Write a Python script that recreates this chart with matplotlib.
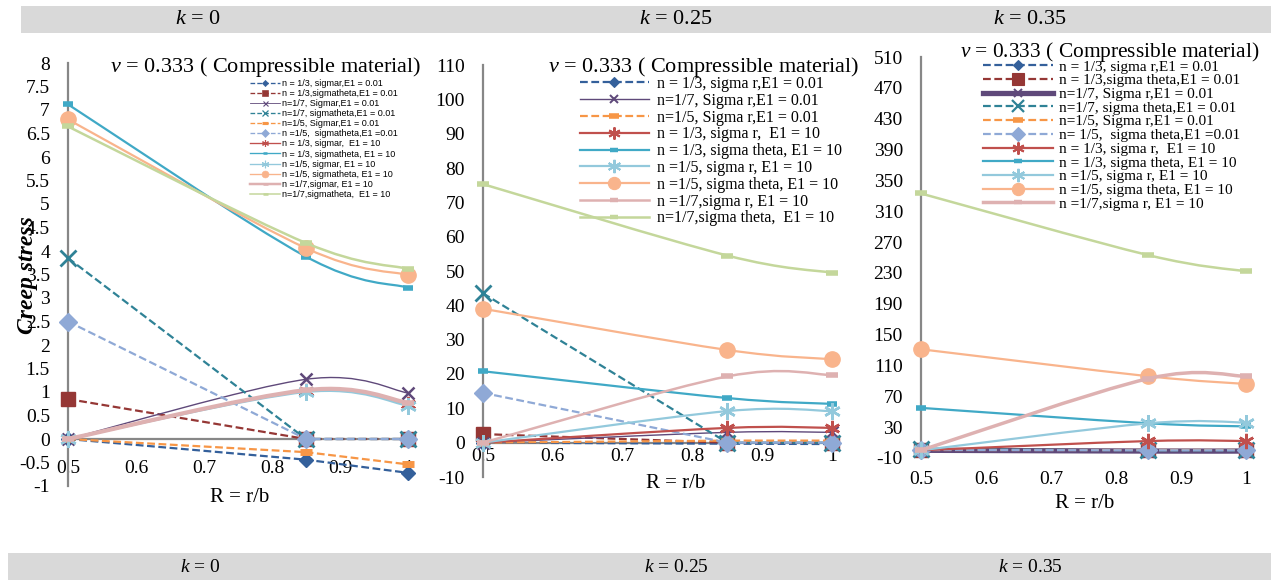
import matplotlib
matplotlib.use("Agg")
import matplotlib.pyplot as plt
from matplotlib.path import Path
from matplotlib.patches import PathPatch, Rectangle
from matplotlib.lines import Line2D

plt.rcParams['font.family'] = ['Liberation Serif', 'DejaVu Serif']
plt.rcParams['mathtext.fontset'] = 'custom'
plt.rcParams['mathtext.rm'] = 'Liberation Serif'
plt.rcParams['mathtext.it'] = 'Liberation Serif:italic'

# ---------------- data ----------------
R = [0.5, 0.85, 1.0]
X_TICKS = [0.5, 0.6, 0.7, 0.8, 0.9, 1.0]
X_TICK_LABELS = ['0.5', '0.6', '0.7', '0.8', '0.9', '1']

K_LABELS = ['$k$ = 0', '$k$ = 0.25', '$k$ = 0.35']
TITLE = '$v$ = 0.333 ( Compressible material)'
X_LABEL = 'R = r/b'
Y_LABEL = 'Creep stress'

K0_YTICKS = [-1, -0.5, 0, 0.5, 1, 1.5, 2, 2.5, 3, 3.5, 4, 4.5, 5, 5.5, 6, 6.5, 7, 7.5, 8]
K0_YTICK_LABELS = ['-1', '-0.5', '0', '0.5', '1', '1.5', '2', '2.5', '3', '3.5', '4',
                   '4.5', '5', '5.5', '6', '6.5', '7', '7.5', '8']
K25_YTICKS = [-10, 0, 10, 20, 30, 40, 50, 60, 70, 80, 90, 100, 110]
K25_YTICK_LABELS = ['-10', '0', '10', '20', '30', '40', '50', '60', '70', '80', '90', '100', '110']
K35_YTICKS = [-10, 30, 70, 110, 150, 190, 230, 270, 310, 350, 390, 430, 470, 510]
K35_YTICK_LABELS = ['-10', '30', '70', '110', '150', '190', '230', '270', '310', '350',
                    '390', '430', '470', '510']

# series keys (order of drawing)
SERIES = ['n3_sr_e001', 'n3_st_e001', 'n7_sr_e001', 'n7_st_e001', 'n5_sr_e001', 'n5_st_e001',
          'n3_sr_e10', 'n3_st_e10', 'n5_sr_e10', 'n5_st_e10', 'n7_sr_e10', 'n7_st_e10']

# k = 0
K0_N3_SR_E001 = [0.0, -0.44, -0.72]
K0_N3_ST_E001 = [0.85, 0.0, 0.0]
K0_N7_SR_E001 = [0.0, 1.27, 0.98]
K0_N7_ST_E001 = [3.85, 0.0, 0.0]
K0_N5_SR_E001 = [0.0, -0.28, -0.54]
K0_N5_ST_E001 = [2.5, 0.0, 0.0]
K0_N3_SR_E10 = [0.0, 1.02, 0.74]
K0_N3_ST_E10 = [7.12, 3.88, 3.22]
K0_N5_SR_E10 = [0.0, 1.0, 0.71]
K0_N5_ST_E10 = [6.8, 4.06, 3.49]
K0_N7_SR_E10 = [0.0, 1.04, 0.77]
K0_N7_ST_E10 = [6.65, 4.17, 3.62]

# k = 0.25
K25_N3_SR_E001 = [0.0, -0.3, -0.4]
K25_N3_ST_E001 = [2.5, 0.0, 0.0]
K25_N7_SR_E001 = [0.0, 3.0, 3.0]
K25_N7_ST_E001 = [43.5, 0.0, 0.0]
K25_N5_SR_E001 = [0.0, 0.6, 0.6]
K25_N5_ST_E001 = [14.5, 0.0, 0.0]
K25_N3_SR_E10 = [0.0, 4.3, 4.3]
K25_N3_ST_E10 = [20.8, 13.0, 11.3]
K25_N5_SR_E10 = [0.0, 9.2, 9.2]
K25_N5_ST_E10 = [39.0, 27.0, 24.3]
K25_N7_SR_E10 = [0.0, 19.3, 19.7]
K25_N7_ST_E10 = [75.3, 54.5, 49.5]

# k = 0.35
K35_N3_SR_E001 = [0.0, -1.0, -1.0]
K35_N3_ST_E001 = [1.0, 0.0, 0.0]
K35_N7_SR_E001 = [0.0, -1.0, -1.0]
K35_N7_ST_E001 = [1.5, 0.0, 0.0]
K35_N5_SR_E001 = [0.0, 0.0, 0.0]
K35_N5_ST_E001 = [0.5, 0.0, 0.0]
K35_N3_SR_E10 = [0.0, 12.0, 12.0]
K35_N3_ST_E10 = [55.0, 35.0, 31.0]
K35_N5_SR_E10 = [0.0, 35.0, 36.0]
K35_N5_ST_E10 = [131.0, 96.0, 86.0]
K35_N7_SR_E10 = [0.0, 93.0, 96.0]
K35_N7_ST_E10 = [333.0, 253.0, 232.0]

K0_LEGEND = ['n = 1/3, sigmar,E1 = 0.01', 'n = 1/3,sigmatheta,E1 = 0.01', 'n=1/7, Sigmar,E1 = 0.01',
             'n=1/7, sigmatheta,E1 = 0.01', 'n=1/5, Sigmar,E1 = 0.01', 'n =1/5,  sigmatheta,E1 =0.01',
             'n = 1/3, sigmar,  E1 = 10', 'n = 1/3, sigmatheta, E1 = 10', 'n =1/5, sigmar, E1 = 10',
             'n =1/5, sigmatheta, E1 = 10', 'n =1/7,sigmar, E1 = 10', 'n=1/7,sigmatheta,  E1 = 10']
K25_LEGEND_KEYS = ['n3_sr_e001', 'n7_sr_e001', 'n5_sr_e001', 'n3_sr_e10', 'n3_st_e10',
                   'n5_sr_e10', 'n5_st_e10', 'n7_sr_e10', 'n7_st_e10']
K25_LEGEND = ['n = 1/3, sigma r,E1 = 0.01', 'n=1/7, Sigma r,E1 = 0.01', 'n=1/5, Sigma r,E1 = 0.01',
              'n = 1/3, sigma r,  E1 = 10', 'n = 1/3, sigma theta, E1 = 10', 'n =1/5, sigma r, E1 = 10',
              'n =1/5, sigma theta, E1 = 10', 'n =1/7,sigma r, E1 = 10', 'n=1/7,sigma theta,  E1 = 10']
K35_LEGEND_KEYS = SERIES[:11]
K35_LEGEND = ['n = 1/3, sigma r,E1 = 0.01', 'n = 1/3,sigma theta,E1 = 0.01', 'n=1/7, Sigma r,E1 = 0.01',
              'n=1/7, sigma theta,E1 = 0.01', 'n=1/5, Sigma r,E1 = 0.01', 'n= 1/5,  sigma theta,E1 =0.01',
              'n = 1/3, sigma r,  E1 = 10', 'n = 1/3, sigma theta, E1 = 10', 'n =1/5, sigma r, E1 = 10',
              'n =1/5, sigma theta, E1 = 10', 'n =1/7,sigma r, E1 = 10']

K0_DATA = dict(zip(SERIES, [K0_N3_SR_E001, K0_N3_ST_E001, K0_N7_SR_E001, K0_N7_ST_E001, K0_N5_SR_E001,
                            K0_N5_ST_E001, K0_N3_SR_E10, K0_N3_ST_E10, K0_N5_SR_E10, K0_N5_ST_E10,
                            K0_N7_SR_E10, K0_N7_ST_E10]))
K25_DATA = dict(zip(SERIES, [K25_N3_SR_E001, K25_N3_ST_E001, K25_N7_SR_E001, K25_N7_ST_E001, K25_N5_SR_E001,
                             K25_N5_ST_E001, K25_N3_SR_E10, K25_N3_ST_E10, K25_N5_SR_E10, K25_N5_ST_E10,
                             K25_N7_SR_E10, K25_N7_ST_E10]))
K35_DATA = dict(zip(SERIES, [K35_N3_SR_E001, K35_N3_ST_E001, K35_N7_SR_E001, K35_N7_ST_E001, K35_N5_SR_E001,
                             K35_N5_ST_E001, K35_N3_SR_E10, K35_N3_ST_E10, K35_N5_SR_E10, K35_N5_ST_E10,
                             K35_N7_SR_E10, K35_N7_ST_E10]))

# ---------------- styles ----------------
DASH = (0, (3.5, 1.6))
STAR = (6, 2, 0)
STYLE = {
    'n3_sr_e001': dict(color='#34609b', ls=DASH, marker='D', ms=7, mew=1, lw=1.6, smooth=False),
    'n3_st_e001': dict(color='#953735', ls=DASH, marker='s', ms=10, mew=1, lw=1.6, smooth=False),
    'n7_sr_e001': dict(color='#5f497a', ls='-', marker='x', ms=8, mew=1.8, lw=1.0, smooth=True),
    'n7_st_e001': dict(color='#2f8296', ls=DASH, marker='x', ms=11, mew=2.0, lw=1.6, smooth=False),
    'n5_sr_e001': dict(color='#f79646', ls=DASH, marker='_', ms=9, mew=5, lw=1.6, smooth=False),
    'n5_st_e001': dict(color='#8fa9d6', ls=DASH, marker='D', ms=9, mew=1, lw=1.6, smooth=False),
    'n3_sr_e10': dict(color='#c0504d', ls='-', marker=STAR, ms=11, mew=1.8, lw=1.6, smooth=True),
    'n3_st_e10': dict(color='#40a9c6', ls='-', marker='_', ms=7, mew=4, lw=1.6, smooth=True),
    'n5_sr_e10': dict(color='#93c9dc', ls='-', marker=STAR, ms=12, mew=1.8, lw=1.6, smooth=True),
    'n5_st_e10': dict(color='#f9b48c', ls='-', marker='o', ms=11, mew=1, lw=1.6, smooth=True),
    'n7_sr_e10': dict(color='#deb1b1', ls='-', marker='_', ms=8, mew=4, lw=2.0, smooth=True),
    'n7_st_e10': dict(color='#c4d79b', ls='-', marker='_', ms=8, mew=4, lw=1.8, smooth=True),
}
LW_OVERRIDE = [
    {'n7_sr_e001': 1.0, 'n7_sr_e10': 3.0},
    {'n7_sr_e001': 1.0, 'n7_sr_e10': 1.8},
    {'n7_sr_e001': 3.8, 'n7_sr_e10': 2.5},
]

W, H = 1271, 580
fig = plt.figure(figsize=(W / 100, H / 100), dpi=100)


def add_axes_px(left, right, top, bottom):
    return fig.add_axes([left / W, 1 - bottom / H, (right - left) / W, (bottom - top) / H])


def smooth_path(x, y):
    pts = list(zip(x, y))
    n = len(pts)
    verts = [pts[0]]
    codes = [Path.MOVETO]
    for i in range(n - 1):
        p0 = pts[i - 1] if i > 0 else pts[i]
        p1 = pts[i]
        p2 = pts[i + 1]
        p3 = pts[i + 2] if i + 2 < n else pts[i + 1]
        c1 = (p1[0] + (p2[0] - p0[0]) / 6, p1[1] + (p2[1] - p0[1]) / 6)
        c2 = (p2[0] - (p3[0] - p1[0]) / 6, p2[1] - (p3[1] - p1[1]) / 6)
        verts += [c1, c2, p2]
        codes += [Path.CURVE4] * 3
    return Path(verts, codes)


def draw_panel(ax, data, lw_over):
    for i, key in enumerate(SERIES):
        st = STYLE[key]
        lw = lw_over.get(key, st['lw'])
        z = 3 + i * 0.1
        y = data[key]
        if st['smooth']:
            patch = PathPatch(smooth_path(R, y), fill=False, edgecolor=st['color'], lw=lw,
                              linestyle=st['ls'], capstyle='butt', clip_on=False, zorder=z)
            ax.add_patch(patch)
            ax.plot(R, y, ls='none', marker=st['marker'], ms=st['ms'], mew=st['mew'],
                    color=st['color'], clip_on=False, zorder=z + 0.05)
        else:
            ax.plot(R, y, ls=st['ls'], lw=lw, marker=st['marker'], ms=st['ms'], mew=st['mew'],
                    color=st['color'], clip_on=False, zorder=z, dash_capstyle='butt')


def handle(key, lw_over, scale=1.0, mscale=1.0):
    st = STYLE[key]
    lw = lw_over.get(key, st['lw'])
    return Line2D([], [], color=st['color'], ls=st['ls'], lw=lw * scale, marker=st['marker'],
                  ms=st['ms'] * mscale, mew=st['mew'] * mscale)


def style_axes(ax, ylim, yticks, ylabels, xpad):
    ax.set_xlim(0.5, 1.0)
    ax.set_ylim(*ylim)
    ax.patch.set_visible(False)
    for s in ['top', 'right']:
        ax.spines[s].set_visible(False)
    ax.spines['left'].set_color('#878787')
    ax.spines['left'].set_linewidth(1.6)
    ax.spines['bottom'].set_color('#878787')
    ax.spines['bottom'].set_linewidth(1.6)
    ax.spines['bottom'].set_position(('data', 0))
    ax.spines['left'].set_zorder(2)
    ax.spines['bottom'].set_zorder(2)
    ax.set_xticks(X_TICKS)
    ax.set_xticklabels(X_TICK_LABELS)
    ax.set_yticks(yticks)
    ax.set_yticklabels(ylabels)
    ax.tick_params(axis='both', length=0, labelsize=14)
    ax.tick_params(axis='y', pad=13)
    ax.tick_params(axis='x', pad=xpad)


# background strips
fig.patches.append(Rectangle((21 / W, 1 - 33 / H), (W - 21) / W, 27 / H, transform=fig.transFigure,
                             facecolor='#d9d9d9', edgecolor='none', zorder=0))
fig.patches.append(Rectangle((8 / W, 0), (W - 8) / W, 27 / H, transform=fig.transFigure,
                             facecolor='#d9d9d9', edgecolor='none', zorder=0))
for xc, lab in zip([198, 676, 1030], K_LABELS):
    fig.text(xc / W, 1 - 19 / H, lab, ha='center', va='center', fontsize=16)
for xc, lab in zip([200, 676, 1030], K_LABELS):
    fig.text(xc / W, 1 - 567 / H, lab, ha='center', va='center', fontsize=14)

# panel 1
ax1 = add_axes_px(68, 408, 63, 486)
style_axes(ax1, (-1, 8), K0_YTICKS, K0_YTICK_LABELS, 15)
draw_panel(ax1, K0_DATA, LW_OVERRIDE[0])
leg1 = ax1.legend([handle(k, LW_OVERRIDE[0], 0.6, 0.45) for k in SERIES], K0_LEGEND,
                  loc='upper left', bbox_to_anchor=(250 / W, 1 - 79 / H), bbox_transform=fig.transFigure,
                  frameon=False, prop=dict(family='Liberation Sans', size=6.5), handlelength=3.3,
                  handletextpad=0.3, labelspacing=0.12, borderpad=0, borderaxespad=0)
leg1.set_zorder(10)

# panel 2
ax2 = add_axes_px(483, 832, 65, 477)
style_axes(ax2, (-10, 110), K25_YTICKS, K25_YTICK_LABELS, 3.5)
draw_panel(ax2, K25_DATA, LW_OVERRIDE[1])
leg2 = ax2.legend([handle(k, LW_OVERRIDE[1], 1.0, 0.8) for k in K25_LEGEND_KEYS], K25_LEGEND,
                  loc='upper left', bbox_to_anchor=(580 / W, 1 - 76 / H), bbox_transform=fig.transFigure,
                  frameon=False, fontsize=11.5, handlelength=4.3, handletextpad=0.5, labelspacing=0.05,
                  borderpad=0, borderaxespad=0)
leg2.set_zorder(10)

# panel 3
ax3 = add_axes_px(921, 1246, 57, 458)
style_axes(ax3, (-10, 510), K35_YTICKS, K35_YTICK_LABELS, 15)
draw_panel(ax3, K35_DATA, LW_OVERRIDE[2])
leg3 = ax3.legend([handle(k, LW_OVERRIDE[2], 1.0, 0.8) for k in K35_LEGEND_KEYS], K35_LEGEND,
                  loc='upper left', bbox_to_anchor=(983 / W, 1 - 60 / H), bbox_transform=fig.transFigure,
                  frameon=False, fontsize=11.0, handlelength=4.6, handletextpad=0.4, labelspacing=0.0,
                  borderpad=0, borderaxespad=0)
leg3.set_zorder(10)

# titles and axis labels
for (xl, yc, fs) in [(110, 67, 16), (548, 67, 16), (960, 52, 15.4)]:
    fig.text(xl / W, 1 - yc / H, TITLE, ha='left', va='center', fontsize=fs)
for (xc, yc) in [(240, 497), (676, 483), (1085, 503)]:
    fig.text(xc / W, 1 - yc / H, X_LABEL, ha='center', va='center', fontsize=15)
fig.text(28 / W, 1 - 275 / H, Y_LABEL, rotation=90, ha='center', va='center', fontsize=17,
         fontweight='bold', fontstyle='italic')

fig.savefig('out.png', dpi=100)
